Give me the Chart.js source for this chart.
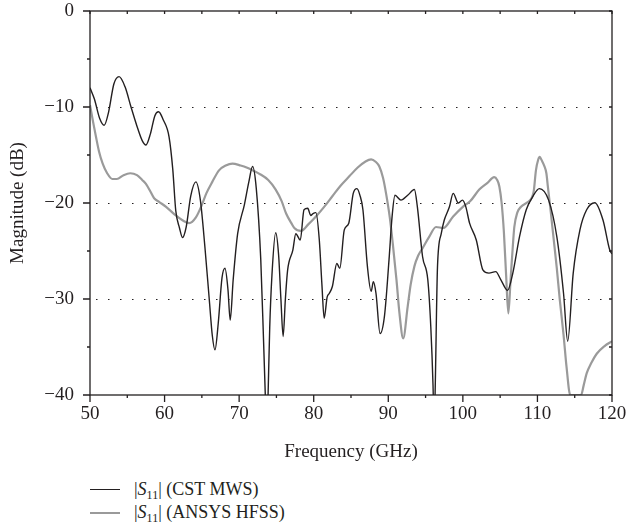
<!DOCTYPE html>
<html>
<head>
<meta charset="utf-8">
<script src="https://cdn.jsdelivr.net/npm/chart.js@4"></script>
<style>
body { margin:0; background:#fff; }
#wrap { position:relative; width:626px; height:529px; }
#box { position:absolute; left:0; top:0; width:626px; height:470px; }
#legend { position:absolute; left:90px; top:478px; font:18px 'Liberation Serif', serif; color:#231f20; }
.row { height:23px; display:flex; align-items:center; white-space:nowrap; }
.sw { width:30px; height:0; margin-right:14px; }
sub { font-size:12px; vertical-align:-4px; line-height:0; }
</style>
</head>
<body>
<div id="wrap">
  <div id="box"><canvas id="chart"></canvas></div>
  <div id="legend">
    <div class="row"><span class="sw" style="border-top:1.4px solid #231f20"></span><span>|<i>S</i><sub>11</sub>| (CST MWS)</span></div>
    <div class="row"><span class="sw" style="border-top:2px solid #9a9a9a"></span><span>|<i>S</i><sub>11</sub>| (ANSYS HFSS)</span></div>
  </div>
</div>
<script>
// |S11| CST MWS
const cstFreq = [50,50.6,51.3,51.9,52.5,53.2,53.9,54.7,55.5,56.3,57.0,57.5,58.1,58.7,59.2,59.8,60.6,61.1,61.5,62.0,
  62.4,62.9,63.5,64.2,64.8,65.4,66.0,66.4,66.76,67.2,67.7,68.1,68.5,68.8,69.2,69.8,70.7,71.3,71.8,72.3,
  72.9,73.3,73.55,73.7,73.85,74.1,74.4,74.9,75.3,75.6,75.9,76.2,76.5,77.2,77.6,78.2,78.7,79.2,79.6,79.9,
  80.3,80.75,81.1,81.4,81.8,82.1,82.5,83.1,83.5,84.1,84.7,85.3,85.8,86.2,86.6,87.2,87.7,88.0,88.35,88.9,
  89.5,90.1,90.5,90.9,91.7,92.6,93.5,93.9,94.6,95.3,95.7,96.0,96.15,96.3,96.6,97.1,97.5,98.2,98.7,99.4,
  99.95,100.4,100.9,101.8,102.7,103.5,104.4,105.1,106.0,106.7,107.6,108.5,109.4,110.25,111.5,112.6,113.5,114.06,114.8,115.7,
  116.6,117.7,118.8,119.7,120];
const cstDb = [-8.0,-9.2,-11.2,-11.9,-10.5,-7.6,-6.84,-7.9,-10.0,-12.0,-13.5,-13.96,-12.8,-10.9,-10.5,-11.3,-13.1,-16.5,-20.8,-22.6,
  -23.6,-22.5,-19.3,-17.8,-19.7,-24.5,-30.1,-33.8,-35.3,-32.5,-27.8,-26.8,-29.0,-32.2,-28.0,-23.2,-20.2,-17.8,-16.2,-18.5,
  -25.9,-35,-41,-45,-41,-33,-27.5,-23.1,-25.5,-30,-33.9,-30,-27.0,-24.9,-23.2,-23.85,-20.7,-20.55,-21.3,-21.1,
  -21.0,-23.85,-28.5,-32.0,-29.8,-29.4,-28.7,-26.3,-26.8,-22.8,-22.1,-19.0,-18.5,-19.2,-20.7,-26.6,-29.2,-28.2,-29.4,-33.6,
  -31.7,-25.9,-21.5,-19.2,-19.7,-19.2,-18.6,-20.4,-25.6,-28.0,-32.9,-39,-44,-39,-26.6,-23.2,-21.8,-20.4,-19.0,-20.0,
  -19.7,-20.4,-22.1,-23.85,-27.0,-27.3,-27.15,-28.0,-29.1,-27.3,-23.5,-20.7,-19.3,-18.5,-19.7,-23.5,-29.4,-34.4,-27.3,-22.8,
  -20.7,-19.97,-21.8,-24.9,-25.3];

// |S11| ANSYS HFSS
const hfssFreq = [50,50.4,50.8,51.2,51.7,52.3,53.0,53.6,54.5,55.4,56.3,57.0,57.5,58.1,58.6,59.3,60.2,61.5,62.4,63.3,
  64.2,65.0,65.6,66.4,67.3,68.2,69.1,70.2,71.0,71.8,72.8,73.9,74.9,75.7,76.3,77.0,77.4,78.3,79.3,80.3,
  81.4,82.5,83.6,84.8,85.9,86.9,87.7,88.3,88.8,89.3,89.7,90.2,90.6,91.1,91.5,92.0,92.6,93.0,93.5,94.0,
  94.6,95.5,96.4,97.4,98.7,100.0,101.0,102.2,103.3,104.2,104.6,104.9,105.2,105.5,105.8,106.1,106.4,106.7,106.9,107.3,
  107.8,108.7,109.2,109.5,109.8,110.1,110.3,110.6,110.9,111.2,111.4,111.8,112.1,112.6,113.0,113.5,113.9,114.4,115.0,115.85,
  116.2,116.6,117.2,117.95,119.0,120];
const hfssDb = [-9.8,-11.5,-13.1,-14.6,-15.9,-16.9,-17.5,-17.5,-17.1,-16.9,-17.1,-17.6,-18.0,-18.8,-19.5,-19.9,-20.4,-21.3,-21.8,-22.1,
  -21.5,-20.2,-19.0,-17.8,-16.6,-16.1,-15.9,-16.1,-16.3,-16.6,-17.0,-17.6,-18.6,-19.8,-21.1,-22.1,-22.6,-22.9,-22.2,-21.4,
  -20.4,-19.3,-18.2,-17.2,-16.3,-15.7,-15.45,-15.7,-16.2,-17.4,-19.0,-21.5,-24.2,-28.0,-31.5,-34.1,-30.8,-28.5,-26.6,-25.5,
  -24.7,-23.5,-22.5,-22.6,-21.4,-20.4,-19.8,-18.6,-17.9,-17.3,-17.6,-18.3,-20.0,-23.0,-27.5,-31.5,-28.0,-24.5,-22.5,-21.0,
  -20.4,-19.9,-19.5,-18.8,-16.6,-15.5,-15.2,-15.6,-16.1,-16.9,-18.3,-21,-23.2,-26.8,-30.1,-33.7,-37.05,-40,-40,-40,
  -39,-37.75,-36.7,-35.7,-34.9,-34.4];

const xTicks = [50, 60, 70, 80, 90, 100, 110, 120];
const yTicks = [0, -10, -20, -30, -40];
const gridDb = [-10, -20, -30];

const ink = '#231f20';
const serif = "'Liberation Serif', 'Times New Roman', serif";
const pts = (xs, ys) => xs.map((x, i) => ({ x, y: ys[i] }));

// axes box, tick marks and dotted lines
const frame = {
  id: 'frame',
  beforeDatasetsDraw(chart) {
    const { ctx, chartArea: a, scales: { y } } = chart;
    ctx.save();
    ctx.strokeStyle = ink; ctx.lineWidth = 1.2; ctx.setLineDash([1.5, 10.5]);
    gridDb.forEach(v => {
      const py = Math.round(y.getPixelForValue(v)) + 0.5;
      ctx.beginPath(); ctx.moveTo(a.left + 6, py); ctx.lineTo(a.right, py); ctx.stroke();
    });
    ctx.restore();
  },
  afterDatasetsDraw(chart) {
    const { ctx, chartArea: a, scales: { x, y } } = chart;
    ctx.save();
    ctx.strokeStyle = ink; ctx.lineWidth = 1.3;
    ctx.strokeRect(a.left, a.top, a.right - a.left, a.bottom - a.top);
    ctx.beginPath();
    for (let f = 50; f <= 120; f += 5) {
      const px = x.getPixelForValue(f), major = f % 10 === 0;
      ctx.moveTo(px, a.bottom); ctx.lineTo(px, a.bottom + (major ? 7 : 3));
      ctx.moveTo(px, a.top); ctx.lineTo(px, a.top + 3);
    }
    for (let d = 0; d >= -40; d -= 5) {
      const py = y.getPixelForValue(d), major = d % 10 === 0;
      ctx.moveTo(a.left, py); ctx.lineTo(a.left - (major ? 7 : 3), py);
      ctx.moveTo(a.right, py); ctx.lineTo(a.right - 3, py);
    }
    ctx.stroke();
    ctx.restore();
  }
};

new Chart(document.getElementById('chart'), {
  type: 'line',
  data: {
    datasets: [
      { label: 'CST MWS', data: pts(cstFreq, cstDb), borderColor: ink, borderWidth: 1.4, pointRadius: 0, cubicInterpolationMode: 'monotone', order: 1 },
      { label: 'ANSYS HFSS', data: pts(hfssFreq, hfssDb), borderColor: '#9a9a9a', borderWidth: 2.2, pointRadius: 0, cubicInterpolationMode: 'monotone', order: 2 }
    ]
  },
  options: {
    responsive: true, maintainAspectRatio: false, animation: false,
    layout: { padding: { top: 11, right: 14, left: 0, bottom: 0 } },
    plugins: { legend: { display: false }, tooltip: { enabled: false } },
    scales: {
      x: {
        type: 'linear', min: 50, max: 120,
        afterFit: s => { s.height = 75; s.paddingLeft = 0; s.paddingRight = 0; },
        afterBuildTicks: s => { s.ticks = xTicks.map(v => ({ value: v })); },
        grid: { display: false, drawTicks: false }, border: { display: false },
        ticks: { padding: 10, color: ink, font: { family: serif, size: 19, lineHeight: 1 }, maxRotation: 0 },
        title: { display: true, text: 'Frequency (GHz)', color: ink, font: { family: serif, size: 19 }, padding: { top: 0, bottom: 7 } }
      },
      y: {
        type: 'linear', min: -40, max: 0,
        afterFit: s => { s.width = 90; s.paddingTop = 0; s.paddingBottom = 0; },
        afterBuildTicks: s => { s.ticks = yTicks.map(v => ({ value: v })); },
        grid: { display: false, drawTicks: false }, border: { display: false },
        ticks: { padding: 16, color: ink, font: { family: serif, size: 19, lineHeight: 1 },
          callback: v => v < 0 ? '\u2212' + Math.abs(v) : String(v) },
        title: { display: true, text: 'Magnitude (dB)', color: ink, font: { family: serif, size: 19 }, padding: { top: 7, bottom: 0 } }
      }
    }
  },
  plugins: [frame]
});
</script>
</body>
</html>
